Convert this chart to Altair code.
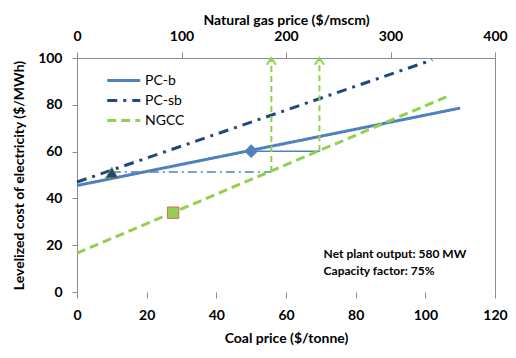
import altair as alt
import pandas as pd

FONT = "Lato"
GRAY = "#8C8C8C"

# ---- data ----
series_names = ["PC-b", "PC-sb", "NGCC"]
series_colors = ["#4F81BD", "#1F497D", "#92D050"]
series_dash = [[1, 0], [10, 6, 3, 6], [9, 5]]

coal_pcb = [0, 110]
lcoe_pcb = [45.5, 78.6]
coal_pcsb = [0, 102]
lcoe_pcsb = [47.0, 99.2]
gas_ngcc = [0, 355]
lcoe_ngcc = [16.6, 83.7]

diamond_coal = [50]
diamond_lcoe = [60.2]
triangle_coal = [10]
triangle_lcoe = [51.0]
square_gas = [92]
square_lcoe = [33.9]

hsb_coal = [10]
hsb_coal2 = [55.7]
hsb_lcoe = [51.3]
hb_coal = [50]
hb_coal2 = [69.7]
hb_lcoe = [60.2]

arrow_gas = [186, 232]
arrow_from = [51.3, 60.2]
arrow_to = [100, 100]

note_text = ["Net plant output: 580 MW", "Capacity factor: 75%"]
note_coal = [70.8] * 2
note_lcoe = [16.4, 8.9]

coal_ticks = [0, 20, 40, 60, 80, 100, 120]
gas_ticks = [0, 100, 200, 300, 400]
lcoe_ticks = [0, 20, 40, 60, 80, 100]

# ---- tables ----
coal_lines = pd.DataFrame({
    "coal": coal_pcb + coal_pcsb,
    "lcoe": lcoe_pcb + lcoe_pcsb,
    "series": ["PC-b"] * len(coal_pcb) + ["PC-sb"] * len(coal_pcsb),
})
gas_lines = pd.DataFrame({"gas": gas_ngcc, "lcoe": lcoe_ngcc, "series": ["NGCC"] * len(gas_ngcc)})
diamond_df = pd.DataFrame({"coal": diamond_coal, "lcoe": diamond_lcoe})
triangle_df = pd.DataFrame({"coal": triangle_coal, "lcoe": triangle_lcoe})
square_df = pd.DataFrame({"gas": square_gas, "lcoe": square_lcoe})
hsb_df = pd.DataFrame({"coal": hsb_coal, "coal2": hsb_coal2, "lcoe": hsb_lcoe})
hb_df = pd.DataFrame({"coal": hb_coal, "coal2": hb_coal2, "lcoe": hb_lcoe})
arrow_df = pd.DataFrame({"gas": arrow_gas, "lcoe": arrow_from, "lcoe2": arrow_to})
note_df = pd.DataFrame({"coal": note_coal, "lcoe": note_lcoe, "text": note_text})

color_enc = alt.Color("series:N", scale=alt.Scale(domain=series_names, range=series_colors),
                      legend=alt.Legend(title=None, orient="none", legendX=48, legendY=15.5,
                                        symbolType="M-4.5,0H1.5", symbolSize=121,
                                        symbolStrokeWidth=3, symbolFillColor="transparent",
                                        labelFont=FONT, labelFontSize=14, labelColor="#000",
                                        labelOffset=6, rowPadding=6, padding=0))
dash_enc = alt.StrokeDash("series:N", scale=alt.Scale(domain=series_names, range=series_dash),
                          legend=alt.Legend(title=None))

x_coal = alt.X("coal:Q", scale=alt.Scale(domain=[0, 120], nice=False),
               axis=alt.Axis(values=coal_ticks, title="Coal price ($/tonne)", domain=False,
                             tickColor=GRAY, tickSize=6, labelPadding=10, titlePadding=9,
                             labelFlush=False))
y_left = alt.Y("lcoe:Q", scale=alt.Scale(domain=[0, 100], nice=False),
               axis=alt.Axis(values=lcoe_ticks, title="Levelized cost of electricity ($/MWh)",
                             domainColor=GRAY, tickColor=GRAY, tickSize=5, labelPadding=10,
                             titlePadding=11))
x_gas = alt.X("gas:Q", scale=alt.Scale(domain=[0, 400], nice=False),
              axis=alt.Axis(orient="top", values=gas_ticks, title="Natural gas price ($/mscm)",
                            domainColor=GRAY, tickColor=GRAY, tickSize=6, labelPadding=9,
                            titlePadding=2, labelFlush=False))
y_right_axis = alt.Axis(orient="right", labels=False, ticks=False, title=None, domainColor=GRAY)
y_right = alt.Y("lcoe:Q", scale=alt.Scale(domain=[0, 100], nice=False), axis=y_right_axis)

coal_line_marks = alt.Chart(coal_lines).mark_line(strokeWidth=3).encode(
    x=x_coal, y=y_left, color=color_enc, strokeDash=dash_enc, detail="series:N")
hsb = alt.Chart(hsb_df).mark_rule(color="#4F81BD", strokeWidth=1.5, strokeDash=[9, 4, 2, 4]).encode(
    x=x_coal, x2="coal2:Q", y=y_left)
hb = alt.Chart(hb_df).mark_rule(color="#4F81BD", strokeWidth=1.5).encode(
    x=x_coal, x2="coal2:Q", y=y_left)
diamond = alt.Chart(diamond_df).mark_point(shape="diamond", filled=True, size=190, color="#4F81BD",
                                            opacity=1).encode(x=x_coal, y=y_left)
triangle = alt.Chart(triangle_df).mark_point(shape="triangle-up", filled=True, size=150, fill="#1F497D",
                                              stroke="#77933C", strokeWidth=1, opacity=1).encode(
    x=x_coal, y=y_left)
note = alt.Chart(note_df).mark_text(align="left", baseline="middle", font=FONT, fontSize=12,
                                    fontWeight="bold", color="#000").encode(
    x=x_coal, y=y_left, text="text:N")

coal_layer = alt.layer(hsb, hb, coal_line_marks, diamond, triangle, note)

gas_line_marks = alt.Chart(gas_lines).mark_line(strokeWidth=3).encode(
    x=x_gas, y=y_right, color=color_enc, strokeDash=dash_enc, detail="series:N")
arrows = alt.Chart(arrow_df).mark_rule(color="#92D050", strokeWidth=2, strokeDash=[6, 4]).encode(
    x=x_gas, y=y_right, y2="lcoe2:Q")
heads = alt.Chart(arrow_df).mark_point(shape="M-1,1.5L0,0L1,1.5", filled=False, size=81,
                                        color="#92D050", strokeWidth=2, opacity=1).encode(
    x=x_gas, y=alt.Y("lcoe2:Q", scale=alt.Scale(domain=[0, 100], nice=False), axis=y_right_axis))
square = alt.Chart(square_df).mark_point(shape="square", filled=True, size=130, fill="#92D050",
                                          stroke="#E06666", strokeWidth=1, opacity=1).encode(
    x=x_gas, y=y_right)

gas_layer = alt.layer(arrows, heads, gas_line_marks, square)

chart = alt.layer(coal_layer, gas_layer).resolve_scale(
    x="independent", y="independent"
).properties(
    width=418, height=234,
    autosize=alt.AutoSizeParams(type="none"),
    padding={"left": 69, "top": 50, "right": 13, "bottom": 53},
).configure_view(
    stroke=None
).configure_axis(
    grid=False, labelFont=FONT, labelFontSize=14, labelFontWeight="bold", labelColor="#000",
    titleFont=FONT, titleFontSize=14, titleFontWeight="bold", titleColor="#000"
)

chart.save("out.html", embed_options={"renderer": "svg", "actions": False})
